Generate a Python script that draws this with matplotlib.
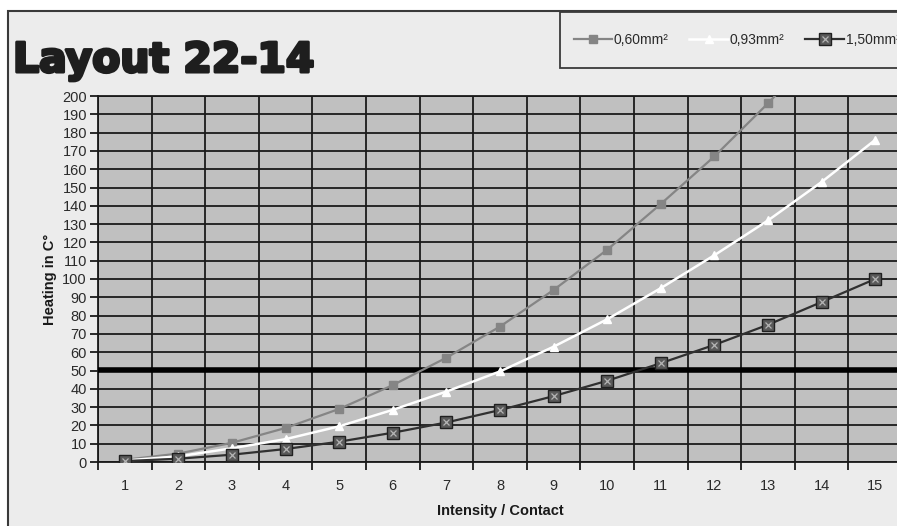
import matplotlib
matplotlib.use("Agg")
import matplotlib.pyplot as plt
from matplotlib.patches import Rectangle
from matplotlib.lines import Line2D
from matplotlib.legend_handler import HandlerTuple
import matplotlib.patheffects as pe

# ---- data ----
intensity = [1, 2, 3, 4, 5, 6, 7, 8, 9, 10, 11, 12, 13, 14, 15]
s060 = [1.2, 4.6, 10.5, 18.6, 29, 42, 57, 74, 94, 116, 141, 167, 196, 227, 261]
s093 = [0.8, 3.1, 7.5, 12.5, 19.5, 28.5, 38.5, 49.5, 63, 78, 95, 113, 132, 153, 176]
s150 = [0.5, 1.8, 4.0, 7.1, 11.1, 16, 21.6, 28.4, 36, 44.4, 54, 64, 75, 87.4, 100]
labels = ["0,60mm²", "0,93mm²", "1,50mm²"]
limit_value = 50.5
title = "Layout 22-14"

W, H = 897, 526
fig = plt.figure(figsize=(W / 100, H / 100), dpi=100)
fig.patch.set_facecolor("white")

def px(x0, y0, x1, y1):
    return [x0 / W, 1 - y1 / H, (x1 - x0) / W, (y1 - y0) / H]

# outer frame
fr = Rectangle((8 / W, -0.05), 1.1, 1 - 11 / H + 0.05, transform=fig.transFigure,
               facecolor="#ececec", edgecolor="#3a3a3a", linewidth=1.5, zorder=-3)
fig.patches.append(fr)

ax = fig.add_axes(px(98, 96, 902, 462))
ax.set_facecolor("#c0c0c0")

ax.plot(intensity, s060, color="#858585", lw=1.6, marker="s", ms=5.5,
        mfc="#858585", mec="#858585", zorder=5)
ax.plot(intensity, s093, color="white", lw=1.8, marker="^", ms=5.5,
        mfc="white", mec="white", zorder=5)
ax.plot(intensity, s150, color="#303030", lw=1.6, marker="s", ms=8.5,
        mfc="#5a5a5a", mec="#202020", mew=1.0, zorder=6)
ax.plot(intensity, s150, ls="none", marker="x", ms=5, mec="#b5b5b5", mew=0.9, zorder=7)

ax.axhline(limit_value, color="black", lw=4, zorder=4)

ax.set_xlim(0.5, 15.5)
ax.set_ylim(0, 200)
ax.set_yticks(range(0, 201, 10))
ax.set_xticks(intensity)
ax.set_xticks([i + 0.5 for i in range(0, 16)], minor=True)
ax.grid(True, axis="y", which="major", color="#1a1a1a", lw=1.3, zorder=1)
ax.grid(True, axis="x", which="minor", color="#1a1a1a", lw=1.3, zorder=1)
ax.set_axisbelow(True)
ax.tick_params(axis="x", which="major", length=0, pad=12, labelsize=10.5, labelcolor="#2a2a2a")
ax.tick_params(axis="x", which="minor", length=6, width=1.3, color="#1a1a1a")
ax.tick_params(axis="y", length=6, width=1.3, color="#1a1a1a", pad=2,
               labelsize=10.5, labelcolor="#2a2a2a")
for lab in ax.get_xticklabels() + ax.get_yticklabels():
    lab.set_family("Liberation Sans")
for sp in ax.spines.values():
    sp.set_color("#1a1a1a")
    sp.set_linewidth(1.3)

ax.set_xlabel("Intensity / Contact", fontsize=10.5, fontweight="bold",
              family="Liberation Sans", color="#1a1a1a", labelpad=8)
ax.set_ylabel("Heating in C°", fontsize=10.5, fontweight="bold",
              family="Liberation Sans", color="#1a1a1a", labelpad=4)

fig.text(13 / W, 1 - 72 / H, title, fontsize=29.5, fontweight="heavy",
         family="DejaVu Sans", color="#1e1e1e", va="baseline", ha="left",
         path_effects=[pe.withStroke(linewidth=2.2, foreground="#1e1e1e")])

# legend box
lb = Rectangle((560 / W, 1 - 68 / H), 0.6, 56 / H, transform=fig.transFigure,
               facecolor="#ececec", edgecolor="#3a3a3a", linewidth=1.3, zorder=-2)
fig.patches.append(lb)

h1 = Line2D([], [], color="#858585", lw=1.6, marker="s", ms=5.5, mfc="#858585", mec="#858585")
h2 = Line2D([], [], color="white", lw=1.8, marker="^", ms=5.5, mfc="white", mec="white")
h3a = Line2D([], [], color="#303030", lw=1.6, marker="s", ms=8.5, mfc="#5a5a5a", mec="#202020")
h3b = Line2D([], [], ls="none", marker="x", ms=5, mec="#b5b5b5", mew=0.9)
leg = fig.legend([h1, h2, (h3a, h3b)], labels, loc="center left",
                 bbox_to_anchor=(561 / W, 1 - 40 / H), ncol=3, frameon=False,
                 handlelength=2.8, handletextpad=0.1, columnspacing=1.5,
                 handler_map={tuple: HandlerTuple(ndivide=1)},
                 prop={"family": "Liberation Sans", "size": 10})
for t in leg.get_texts():
    t.set_color("#2a2a2a")

fig.savefig("out.png", dpi=100)
